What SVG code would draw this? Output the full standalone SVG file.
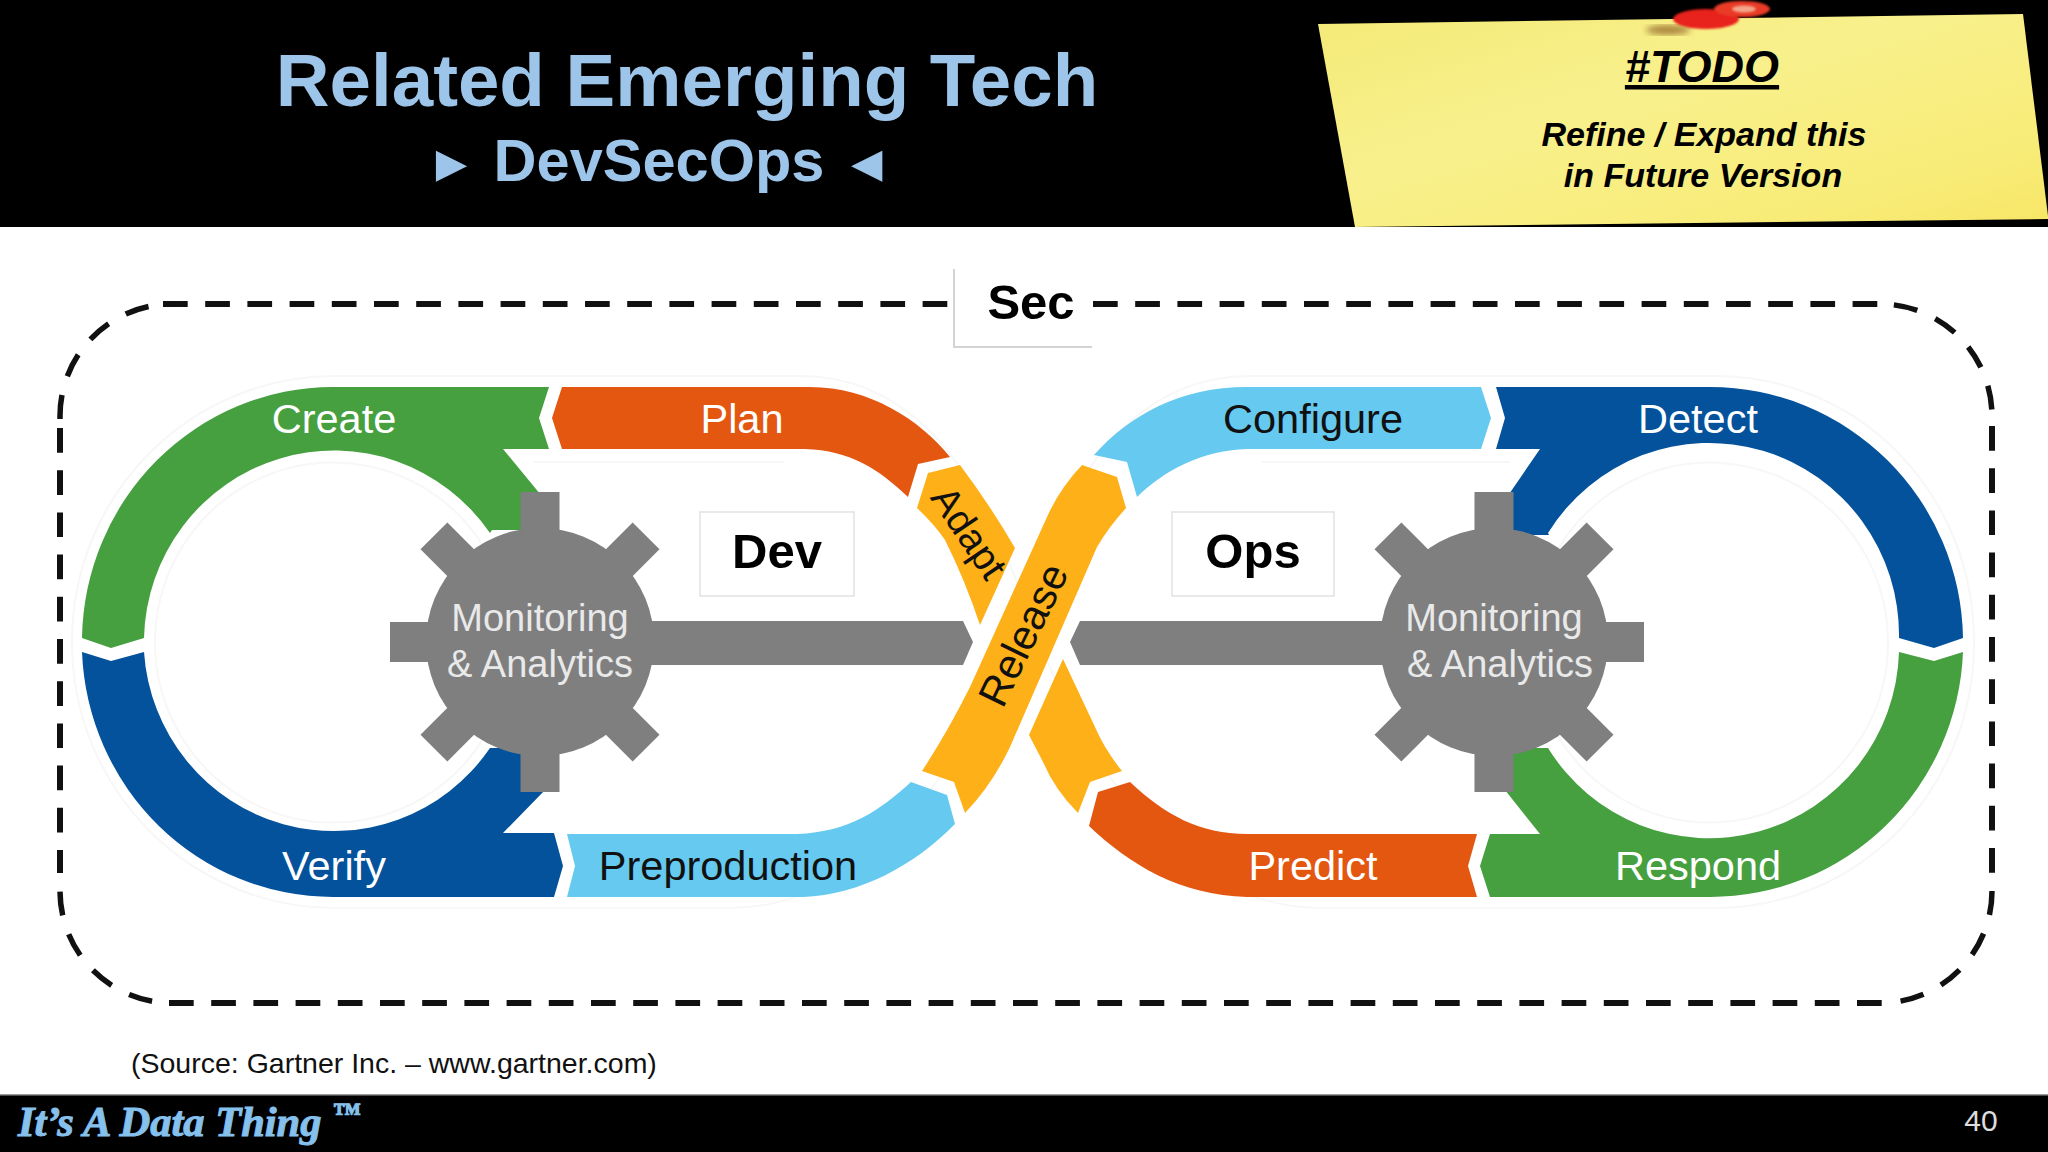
<svg xmlns="http://www.w3.org/2000/svg" width="2048" height="1152" viewBox="0 0 2048 1152">
<style>
text{font-family:"Liberation Sans",Arial,sans-serif}
.seg-g{fill:#46a040}.seg-b{fill:#03529b}.seg-o{fill:#e35711}.seg-l{fill:#66c9f0}.seg-a{fill:#fdb018}
.gr{fill:#7f7f80}
.w{fill:#fff;font-size:41.500px;text-anchor:middle}
.k{fill:#111;font-size:41.500px;text-anchor:middle}
.m{fill:#e9e9e9;font-size:38px;text-anchor:middle}
.box{fill:#fff;stroke:#e2e2e2;stroke-width:1.5}
.big{fill:#000;font-size:49px;font-weight:700;text-anchor:middle}
.note{fill:#000;font-weight:700;font-style:italic;text-anchor:middle}
.faint{fill:none;stroke:#f7f7f7;stroke-width:2}
.line{fill:none;stroke:#111;stroke-width:6;stroke-dasharray:24.7 17.5}
.arc{fill:none;stroke:#111;stroke-width:5.5;stroke-dasharray:24 19.7}
</style>
<defs>
<linearGradient id="noteFill" x1="0" y1="0" x2="1" y2="1"><stop offset="0" stop-color="#f4ea78"/><stop offset=".4" stop-color="#f8f08c"/><stop offset=".8" stop-color="#f8ec78"/><stop offset="1" stop-color="#f7e666"/></linearGradient>
<filter id="blur"><feGaussianBlur stdDeviation="3"/></filter>
<filter id="blur2"><feGaussianBlur stdDeviation="1.2"/></filter>
<g id="gearShape">
<circle r="114"/>
<rect x="-19.500" y="-150" width="39" height="300"/>
<rect x="-150" y="-20" width="300" height="40"/>
<rect x="-19" y="-150" width="38" height="300" transform="rotate(45)"/>
<rect x="-19" y="-150" width="38" height="300" transform="rotate(-45)"/>
</g>
</defs>
<rect width="2048" height="1152" fill="#fff"/>
<g id="header">
<rect width="2048" height="227" fill="#000"/>
<text x="687" y="106" font-size="74.500" font-weight="700" fill="#9dc5ea" text-anchor="middle">Related Emerging Tech</text>
<text x="659" y="181" font-size="59.500" font-weight="700" fill="#9dc5ea" text-anchor="middle"><tspan font-size="52">►</tspan> DevSecOps <tspan font-size="52">◄</tspan></text>
</g>
<g id="todo-note">
<polygon points="1318,24 2023,14 2048,216 2048,219 1355,227" fill="url(#noteFill)"/>
<ellipse cx="1668" cy="30" rx="22" ry="5" fill="#8a5a20" filter="url(#blur)" opacity=".7"/>
<ellipse cx="1706" cy="19" rx="33" ry="10" fill="#e8201a" filter="url(#blur2)"/>
<ellipse cx="1742" cy="9" rx="28" ry="8" fill="#e93a28" filter="url(#blur2)"/>
<ellipse cx="1744" cy="9" rx="12" ry="3.500" fill="#f3a58a" filter="url(#blur2)"/>
<text class="note" x="1702" y="82" font-size="45" text-decoration="underline">#TODO</text>
<text class="note" x="1704" y="146" font-size="34">Refine / Expand this</text>
<text class="note" x="1703" y="187" font-size="34">in Future Version</text>
</g>
<g id="sec-boundary">
<path class="line" d="M163 304H950"/>
<path class="line" d="M1093 304H1880"/>
<path class="line" d="M169 1003H1883"/>
<path class="line" d="M60 428V873"/>
<path class="line" d="M1992 426V874"/>
<path class="arc" d="M60 419V416A112 112 0 0 1 172 304"/>
<path class="arc" style="stroke-dashoffset:-14" d="M1880 304A112 112 0 0 1 1992 416"/>
<path class="arc" d="M1992 891A112 112 0 0 1 1880 1003"/>
<path class="arc" style="stroke-dashoffset:-20" d="M172 1003A112 112 0 0 1 60 891"/>
</g>
<g id="sec-label">
<path d="M954 269V347H1092" fill="none" stroke="#d4d4d4" stroke-width="2"/>
<text class="big" x="1031" y="319">Sec</text>
</g>
<path class="faint" d="M335 376H800C900 376 960 450 1000 540C1030 610 1060 720 1120 790C1170 850 1230 908 1320 908H1715C1860 908 1974 790 1974 642C1974 494 1860 376 1715 376H1250C1150 376 1090 450 1050 540C1020 610 990 720 930 790C880 850 820 908 730 908H335C190 908 72 790 72 642C72 494 190 376 335 376Z"/>
<path class="faint" d="M534 462H784M1262 462H1510M155 642A178 180 0 1 1 155 643M1532 642A178 180 0 1 1 1532 643"/>
<g id="connectors">
<polygon class="gr" points="640,621 963,621 973,642 963,665 640,665"/>
<polygon class="gr" points="1400,621 1080,621 1070,642 1080,665 1400,665"/>
</g>
<g id="create"><path class="seg-g" d="M82 638A251 255 0 0 1 333 387H549L539 418L549 449H503L545 500V530H492L490 533A190 192 0 0 0 144 638L111 648Z"/><text class="w" x="334" y="433">Create</text></g>
<g id="plan"><path class="seg-o" d="M562 387L552 418L562 449H805C850 450 880 470 908 497L918 464L950 457C920 420 870 387 810 387Z"/><text class="w" x="742" y="433">Plan</text></g>
<g id="adapt"><path class="seg-a" d="M960 465L928 473L917 508Q935 525 945 540Q965 580 980 625L1015 548Q990 505 960 465Z"/><text class="k" style="font-size:39px" transform="translate(958 540) rotate(56)">Adapt</text></g>
<g id="release"><path class="seg-a" d="M1082 465L1117 477L1126 508Q1108 528 1097 547L1010 747Q992 785 965 813L954 782L922 771Q947 733 970 687L1047 517Q1060 488 1082 465Z"/><text class="k" transform="translate(1036 641) rotate(-64)">Release</text></g>
<path class="seg-a" d="M1063 659L1095 727Q1105 750 1122 771L1090 782L1078 813Q1055 790 1043 762L1029 735Z"/>
<g id="configure"><path class="seg-l" d="M1481 387L1491 418L1481 449H1247C1200 451 1165 470 1137 497L1127 462L1094 455C1130 415 1180 387 1247 387Z"/><text class="k" x="1313" y="433">Configure</text></g>
<g id="detect"><path class="seg-b" d="M1496 387L1505 418L1496 449H1540L1505 500V535H1549L1548 533A190 192 0 0 1 1899 638L1934 648L1963 638A253 255 0 0 0 1710 387Z"/><text class="w" x="1698" y="433">Detect</text></g>
<g id="verify"><path class="seg-b" d="M82 652L111 661L144 652A190 192 0 0 0 490 748H545V790L503 833H554L563 866L554 897H333A251 255 0 0 1 82 652Z"/><text class="w" x="334" y="880">Verify</text></g>
<g id="preproduction"><path class="seg-l" d="M567 834L575 866L567 897H803C860 895 915 865 955 824L947 795L911 782C880 810 850 832 797 834Z"/><text class="k" x="728" y="880">Preproduction</text></g>
<g id="predict"><path class="seg-o" d="M1477 834L1468 866L1477 897H1247C1180 895 1130 865 1089 826L1098 792L1130 782C1165 815 1200 834 1247 834Z"/><text class="w" x="1313" y="880">Predict</text></g>
<g id="respond"><path class="seg-g" d="M1490 834L1480 866L1490 897H1710A253 255 0 0 0 1963 652L1934 661L1899 652A190 192 0 0 1 1548 748H1505V790L1540 834Z"/><text class="w" x="1698" y="880">Respond</text></g>
<g id="dev-label"><rect class="box" x="700" y="512" width="154" height="84"/><text class="big" x="777" y="568">Dev</text></g>
<g id="ops-label"><rect class="box" x="1172" y="512" width="162" height="84"/><text class="big" x="1253" y="568">Ops</text></g>
<g id="gear-dev" class="gr"><use href="#gearShape" x="540" y="642"/><text class="m" x="540" y="631">Monitoring</text><text class="m" x="540" y="677">&amp; Analytics</text></g>
<g id="gear-ops" class="gr"><use href="#gearShape" x="1494" y="642"/><text class="m" x="1494" y="631">Monitoring</text><text class="m" x="1500" y="677">&amp; Analytics</text></g>
<text x="131" y="1073" font-size="28.500" fill="#111">(Source: Gartner Inc. – www.gartner.com)</text>
<g id="footer">
<rect y="1094" width="2048" height="58" fill="#000"/>
<rect y="1094" width="2048" height="1.500" fill="#999"/>
<text x="18" y="1136" font-size="42.500" font-weight="700" font-style="italic" fill="#86c0ec" stroke="#86c0ec" stroke-width="1" style="font-family:'Liberation Serif',serif">It’s A Data Thing <tspan font-size="28" dy="-14">™</tspan></text>
<text x="1981" y="1131" font-size="30" fill="#ddd" text-anchor="middle">40</text>
</g>
</svg>
